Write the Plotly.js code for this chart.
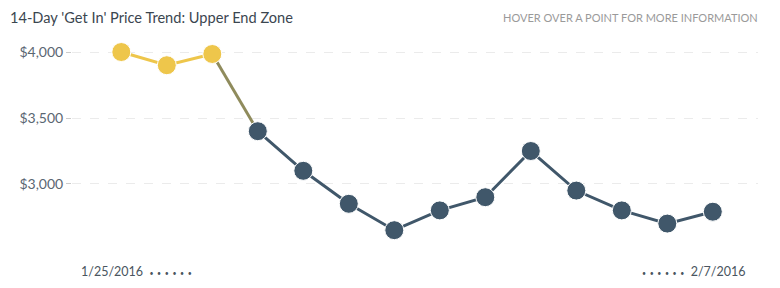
<!DOCTYPE html>
<html>
<head>
<meta charset="utf-8">
<script src="https://cdn.plot.ly/plotly-3.0.1.min.js"></script>
<style>html,body{margin:0;padding:0;background:#fff;}#chart{width:780px;height:288px;}</style>
</head>
<body>
<div id="chart"></div>
<script>
const dates = ['2016-01-25','2016-01-26','2016-01-27','2016-01-28','2016-01-29','2016-01-30','2016-01-31',
               '2016-02-01','2016-02-02','2016-02-03','2016-02-04','2016-02-05','2016-02-06','2016-02-07'];
const prices = [4000, 3900, 3985, 3400, 3100, 2850, 2650, 2800, 2900, 3250, 2950, 2800, 2700, 2790];
const highCount = 3; // first points in the upper zone (yellow)
const yTicks = [3000, 3500, 4000];
const yTickText = ['$3,000', '$3,500', '$4,000'];
const startLabel = '1/25/2016';
const endLabel = '2/7/2016';

const YELLOW = '#EEC64B';
const DARK = '#40576A';
const MID = '#8F8B5C';

const traces = [
  { x: dates.slice(0, highCount), y: prices.slice(0, highCount), mode: 'lines',
    line: {color: YELLOW, width: 3}, hoverinfo: 'skip' },
  { x: dates.slice(highCount - 1, highCount + 1), y: prices.slice(highCount - 1, highCount + 1), mode: 'lines',
    line: {color: MID, width: 3}, hoverinfo: 'skip' },
  { x: dates.slice(highCount), y: prices.slice(highCount), mode: 'lines',
    line: {color: DARK, width: 3}, hoverinfo: 'skip' },
  { x: dates, y: prices, mode: 'markers',
    marker: {size: 19, color: prices.map((p, i) => i < highCount ? YELLOW : DARK), line: {color: '#fff', width: 1}},
    hovertemplate: '%{x|%-m/%-d/%Y}<br>$%{y:,}<extra></extra>' }
];

const dots = '<span style="font-size:7px">•&nbsp;&nbsp;•&nbsp;&nbsp;•&nbsp;&nbsp;•&nbsp;&nbsp;•&nbsp;&nbsp;•</span>';

const layout = {
  width: 780, height: 288,
  margin: {l: 72, r: 22, t: 35, b: 40},
  paper_bgcolor: '#fff', plot_bgcolor: '#fff',
  showlegend: false,
  font: {family: 'Lato, "Open Sans", sans-serif', color: '#555'},
  xaxis: { type: 'date', range: ['2016-01-23 22:00', '2016-02-07 23:50'],
    showgrid: false, zeroline: false, showticklabels: false, ticks: '', showline: false, fixedrange: true },
  yaxis: { range: [2515, 4129], tickvals: yTicks, ticktext: yTickText,
    showgrid: true, gridcolor: '#EBEBEB', griddash: 'dash', gridwidth: 1,
    zeroline: false, showline: false, ticks: 'outside', ticklen: 5, tickcolor: '#ccc',
    tickfont: {size: 14, color: '#5A6672'}, fixedrange: true },
  annotations: [
    { text: "14-Day 'Get In' Price Trend: Upper End Zone", xref: 'paper', yref: 'paper',
      x: -72/686, y: 1, yshift: 18, xshift: 8, xanchor: 'left', yanchor: 'middle', showarrow: false,
      font: {size: 14.6, color: '#3B4650'} },
    { text: 'HOVER OVER A POINT FOR MORE INFORMATION', xref: 'paper', yref: 'paper',
      x: 1, y: 1, yshift: 18, xshift: 2, xanchor: 'right', yanchor: 'middle', showarrow: false,
      font: {size: 11, color: '#9A9A9A'} },
    { text: startLabel + '&nbsp;&nbsp;' + dots, xref: 'paper', yref: 'paper',
      x: 7/686, y: 0, yshift: -23, xanchor: 'left', yanchor: 'middle', showarrow: false,
      font: {size: 12.5, color: '#4A5560'} },
    { text: dots + '&nbsp;&nbsp;' + endLabel, xref: 'paper', yref: 'paper',
      x: 675/686, y: 0, yshift: -23, xanchor: 'right', yanchor: 'middle', showarrow: false,
      font: {size: 12.5, color: '#4A5560'} }
  ]
};

Plotly.newPlot('chart', traces, layout, {displayModeBar: false, responsive: false});
</script>
</body>
</html>
